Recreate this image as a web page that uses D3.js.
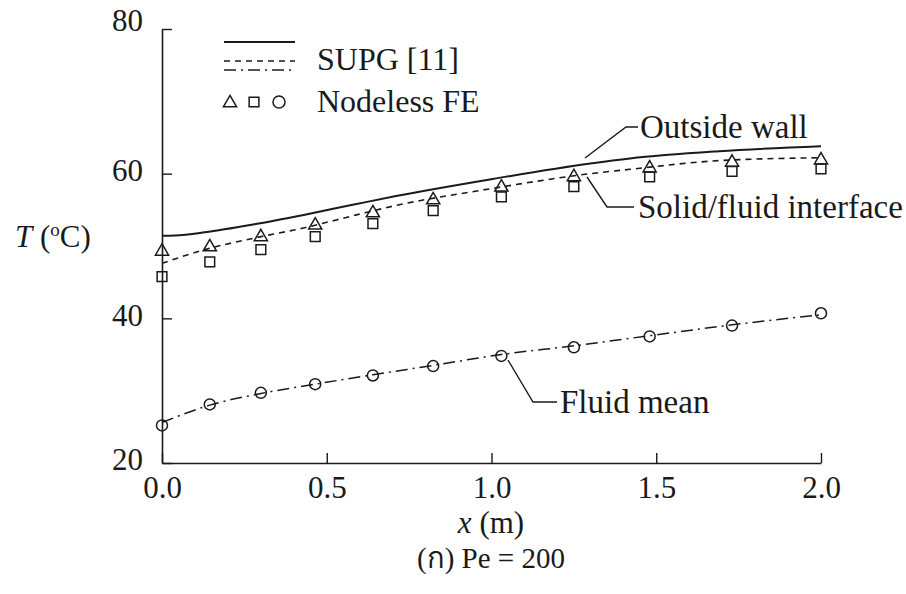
<!DOCTYPE html>
<html>
<head>
<meta charset="utf-8">
<script src="https://cdn.jsdelivr.net/npm/d3@7"></script>
<style>
  body { margin: 0; background: #fff; }
</style>
</head>
<body>
<svg id="chart" width="906" height="594"></svg>
<script>
// Nodeless FE sample points
var markerX = [0, 0.145, 0.3, 0.465, 0.64, 0.823, 1.03, 1.25, 1.48, 1.73, 2.0]
var wallFE = [49.4, 50.0, 51.4, 53.0, 54.7, 56.5, 58.25, 59.7, 60.9, 61.7, 62.0]
var interfaceFE = [45.75, 47.8, 49.5, 51.3, 53.1, 54.9, 56.8, 58.2, 59.55, 60.3, 60.65]
var fluidFE = [25.2, 28.1, 29.7, 30.9, 32.1, 33.4, 34.8, 36.0, 37.5, 39.0, 40.7]

// SUPG [11] curves
var wallX = [0, 0.04, 0.13, 0.28, 0.43, 0.59, 0.71, 0.995, 1.30, 1.42, 1.69, 2.0]
var wallSUPG = [51.4, 51.45, 51.9, 53.0, 54.3, 55.8, 56.9, 59.2, 61.4, 62.1, 63.1, 63.8]
var interfaceX = [0, 0.13, 0.28, 0.43, 0.59, 0.71, 0.995, 1.30, 1.42, 1.69, 2.0]
var interfaceSUPG = [47.6, 49.5, 51.1, 52.5, 54.3, 55.6, 57.9, 60.0, 60.6, 61.8, 62.2]
var fluidSUPG = [25.6, 28.0, 29.6, 30.9, 32.2, 33.5, 35.0, 36.2, 37.6, 39.1, 40.5]

var xTicks = [0, 0.5, 1.0, 1.5, 2.0]
var yTicks = [20, 40, 60, 80]

var ink = '#1a1a1a'
var serif = '"Liberation Serif"'
var svg = d3.select('#chart')

var x = d3.scaleLinear().domain([0, 2]).range([162, 821])
var y = d3.scaleLinear().domain([20, 80]).range([463, 29])

// axes: ticks point inward
var xAxis = d3.axisBottom(x).tickValues(xTicks).tickFormat(d3.format('.1f'))
  .tickSizeInner(-10).tickSizeOuter(0).tickPadding(13)
var yAxis = d3.axisLeft(y).tickValues(yTicks).tickFormat(d3.format('d'))
  .tickSizeInner(-10).tickSizeOuter(0).tickPadding(19)

var gx = svg.append('g').attr('transform', 'translate(0,463)').call(xAxis)
var gy = svg.append('g').attr('transform', 'translate(162,0)').call(yAxis)
;[gx, gy].forEach(function(g) {
  g.select('.domain').attr('stroke', ink).attr('stroke-width', 1.6)
  g.selectAll('.tick line').attr('stroke', ink).attr('stroke-width', 1.4)
  g.selectAll('.tick text').style('font-family', serif).style('font-size', '31px').attr('fill', ink)
})
gy.selectAll('.tick text').attr('dy', '0.22em')
gy.selectAll('.tick').filter(function(d) { return d == 80 }).select('text').attr('dy', '0.05em')

// SUPG lines
var line = d3.line().curve(d3.curveMonotoneX)
function drawLine(xs, ys, dash, width) {
  svg.append('path')
    .datum(xs.map(function(d, i) { return [x(d), y(ys[i])] }))
    .attr('d', line)
    .attr('fill', 'none')
    .attr('stroke', ink)
    .attr('stroke-width', width)
    .attr('stroke-dasharray', dash)
}
drawLine(wallX, wallSUPG, null, 2)
drawLine(interfaceX, interfaceSUPG, '6,5', 1.6)
drawLine(markerX, fluidSUPG, '12,5,2,5', 1.5)

// Nodeless FE markers
var tri = d3.symbol().type(d3.symbolTriangle).size(75)
var sq = d3.symbol().type(d3.symbolSquare).size(95)
function drawMarks(vals, sym, dy) {
  svg.append('g').selectAll('path').data(vals).enter().append('path')
    .attr('transform', function(d, i) { return 'translate(' + x(markerX[i]) + ',' + (y(d) + dy) + ')' })
    .attr('d', sym)
    .attr('fill', 'none')
    .attr('stroke', ink)
    .attr('stroke-width', 1.5)
}
drawMarks(wallFE, tri, 1)
drawMarks(interfaceFE, sq, 0)
svg.append('g').selectAll('circle').data(fluidFE).enter().append('circle')
  .attr('cx', function(d, i) { return x(markerX[i]) })
  .attr('cy', function(d) { return y(d) })
  .attr('r', 5.5)
  .attr('fill', 'none')
  .attr('stroke', ink)
  .attr('stroke-width', 1.5)

function label(px, py, size, txt) {
  return svg.append('text').attr('x', px).attr('y', py)
    .style('font-family', serif).style('font-size', size + 'px').attr('fill', ink).text(txt)
}

// legend
var legend = svg.append('g')
legend.append('line').attr('x1', 224).attr('x2', 295).attr('y1', 42).attr('y2', 42)
  .attr('stroke', ink).attr('stroke-width', 2)
legend.append('line').attr('x1', 224).attr('x2', 295).attr('y1', 61).attr('y2', 61)
  .attr('stroke', ink).attr('stroke-width', 1.5).attr('stroke-dasharray', '6,5')
legend.append('line').attr('x1', 224).attr('x2', 295).attr('y1', 70).attr('y2', 70)
  .attr('stroke', ink).attr('stroke-width', 1.5).attr('stroke-dasharray', '12,5,2,5')
label(317, 70, 32, 'SUPG [11]')
legend.append('path').attr('d', tri).attr('transform', 'translate(230,103)')
  .attr('fill', 'none').attr('stroke', ink).attr('stroke-width', 1.5)
legend.append('path').attr('d', sq).attr('transform', 'translate(254,102)')
  .attr('fill', 'none').attr('stroke', ink).attr('stroke-width', 1.5)
legend.append('circle').attr('cx', 279).attr('cy', 102).attr('r', 6)
  .attr('fill', 'none').attr('stroke', ink).attr('stroke-width', 1.5)
label(317, 112, 32, 'Nodeless FE')

// annotations with leader lines
function note(pts, tx, ty, txt) {
  svg.append('path').attr('d', d3.line()(pts)).attr('fill', 'none')
    .attr('stroke', ink).attr('stroke-width', 1.4)
  label(tx, ty, 33, txt)
}
note([[585, 158], [626, 127], [638, 127]], 640, 138, 'Outside wall')
note([[587, 177], [607, 207], [634, 207]], 638, 218, 'Solid/fluid interface')
note([[508, 360], [533, 402], [557, 402]], 560, 413, 'Fluid mean')

// axis titles
var yt = label(15, 247, 31, '')
yt.append('tspan').style('font-style', 'italic').text('T')
yt.append('tspan').text(' (')
yt.append('tspan').attr('dy', -11).style('font-size', '19px').text('o')
yt.append('tspan').attr('dy', 11).text('C)')

var xt = label(491, 533, 31, '').attr('text-anchor', 'middle')
xt.append('tspan').style('font-style', 'italic').text('x')
xt.append('tspan').text(' (m)')

label(491, 568, 29, '(ก) Pe = 200').attr('text-anchor', 'middle')
</script>
</body>
</html>
